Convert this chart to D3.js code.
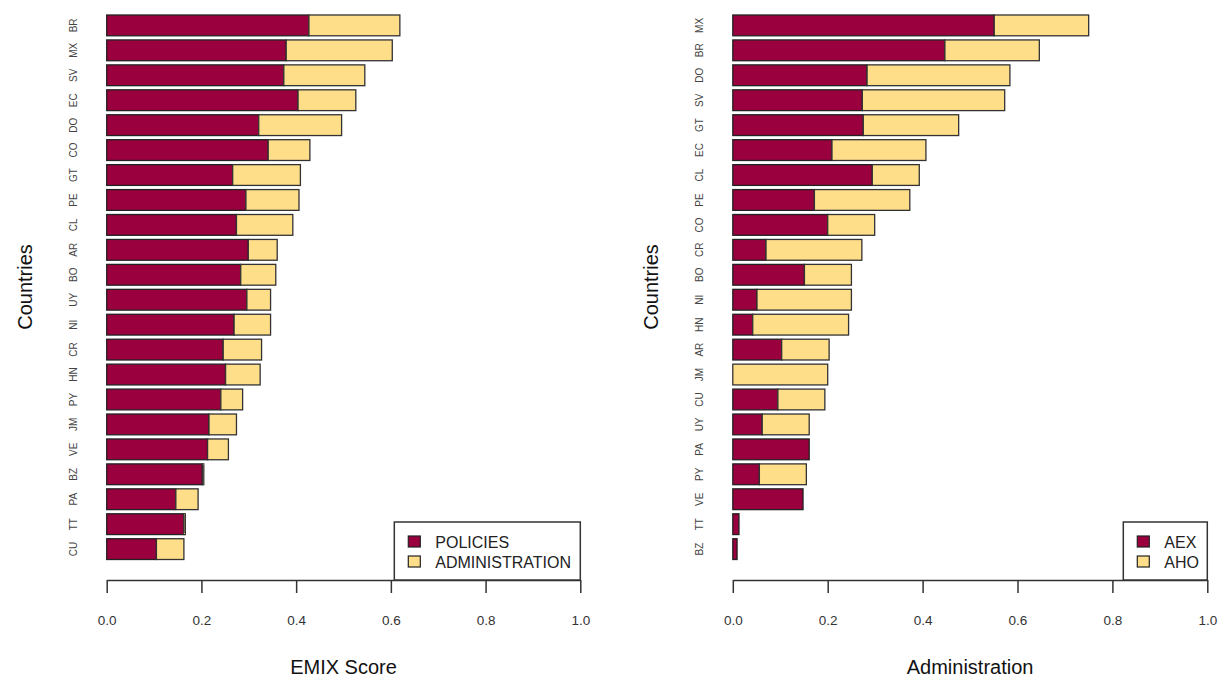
<!DOCTYPE html>
<meta charset="utf-8">
<style>
    body { margin: 0; background: #fff; }
    svg { font-family: "Liberation Sans", Arial, sans-serif; }
    .axis path, .axis line { stroke: #333; stroke-width: 1.5px; }
    .axis text { fill: #333; font-size: 13.5px; }
    .ylab { fill: #444; font-size: 10px; }
    .title { fill: #111; font-size: 20px; }
    .legend text { fill: #222; font-size: 16px; }
</style>
<svg width="1221" height="677"></svg>
<script src="https://d3js.org/d3.v7.min.js"></script>
<script>

    // left panel: EMIX score = policies + administration
    var emixCountries = ["BR","MX","SV","EC","DO","CO","GT","PE","CL","AR","BO","UY","NI","CR","HN","PY","JM","VE","BZ","PA","TT","CU"];
    var policies =      [0.427,0.379,0.374,0.404,0.321,0.341,0.266,0.294,0.274,0.299,0.283,0.296,0.269,0.246,0.251,0.241,0.216,0.213,0.202,0.146,0.163,0.105];
    var administration =[0.192,0.224,0.171,0.122,0.175,0.088,0.143,0.112,0.119,0.061,0.074,0.050,0.077,0.081,0.073,0.046,0.058,0.044,0.003,0.047,0.003,0.058];

    // right panel: administration = AEX + AHO
    var admCountries = ["MX","BR","DO","SV","GT","EC","CL","PE","CO","CR","BO","NI","HN","AR","JM","CU","UY","PA","PY","VE","TT","BZ"];
    var aex = [0.551,0.447,0.283,0.273,0.275,0.209,0.294,0.172,0.200,0.070,0.151,0.051,0.042,0.103,0.000,0.095,0.062,0.161,0.056,0.148,0.013,0.009];
    var aho = [0.199,0.199,0.301,0.300,0.201,0.198,0.099,0.201,0.099,0.202,0.099,0.199,0.202,0.100,0.200,0.099,0.099,0.000,0.099,0.000,0.000,0.000];

    var xTicks = [0, 0.2, 0.4, 0.6, 0.8, 1.0];
    var colors = ["#99003d", "#ffde8a"];

    var svg = d3.select("svg");

    function panel(x0, x1, countries, a, b, names, xTitle) {
        var x = d3.scaleLinear().domain([0, 1]).range([x0, x1]);
        var y = d3.scaleBand().domain(countries).range([15, 559.5])
            .paddingInner(0.2 / 1.2).paddingOuter(0);

        var rows = countries.map(function(c, i) {
            return {c: c, a: a[i], b: b[i]};
        });

        var g = svg.append("g");

        var bar = g.selectAll("g.row").data(rows).enter().append("g").attr("class", "row");
        bar.append("rect")
            .attr("x", x(0))
            .attr("y", function(d) { return y(d.c); })
            .attr("width", function(d) { return x(d.a) - x(0); })
            .attr("height", y.bandwidth())
            .attr("fill", colors[0]).attr("stroke", "#222").attr("stroke-width", 1.3);
        bar.append("rect")
            .attr("x", function(d) { return x(d.a); })
            .attr("y", function(d) { return y(d.c); })
            .attr("width", function(d) { return x(d.a + d.b) - x(d.a); })
            .attr("height", y.bandwidth())
            .attr("fill", colors[1]).attr("stroke", "#333").attr("stroke-width", 1.3);

        // country labels, rotated like R's las=0
        g.selectAll("text.ylab").data(countries).enter().append("text")
            .attr("class", "ylab")
            .attr("transform", function(d) {
                return "translate(" + (x0 - 30) + "," + (y(d) + y.bandwidth() / 2) + ") rotate(-90)";
            })
            .attr("text-anchor", "middle")
            .text(function(d) { return d; });

        g.append("g")
            .attr("class", "axis")
            .attr("transform", "translate(0,580)")
            .call(d3.axisBottom(x).tickValues(xTicks).tickFormat(d3.format(".1f"))
                .tickSize(13).tickPadding(22).tickSizeOuter(0));

        g.append("text").attr("class", "title")
            .attr("x", (x0 + x1) / 2).attr("y", 674)
            .attr("text-anchor", "middle")
            .text(xTitle);

        g.append("text").attr("class", "title")
            .attr("transform", "translate(" + (x0 - 75) + ",287) rotate(-90)")
            .attr("text-anchor", "middle")
            .text("Countries");

        // legend, bottom right
        var longest = d3.max(names, function(n) { return n.length; });
        var lw = longest > 5 ? 186 : 84;
        var lg = g.append("g").attr("class", "legend")
            .attr("transform", "translate(" + (x1 - lw) + ",522)");
        lg.append("rect").attr("width", lw).attr("height", 58)
            .attr("fill", "#fff").attr("stroke", "#333").attr("stroke-width", 1.5);
        names.forEach(function(n, i) {
            lg.append("rect").attr("x", 14).attr("y", 14 + i * 20)
                .attr("width", 12).attr("height", 11)
                .attr("fill", colors[i]).attr("stroke", "#222").attr("stroke-width", 1.2);
            lg.append("text").attr("x", 41).attr("y", 25.5 + i * 20).text(n);
        });
    }

    panel(106.7, 580.3, emixCountries, policies, administration, ["POLICIES", "ADMINISTRATION"], "EMIX Score");
    panel(732.8, 1207.3, admCountries, aex, aho, ["AEX", "AHO"], "Administration");

</script>
